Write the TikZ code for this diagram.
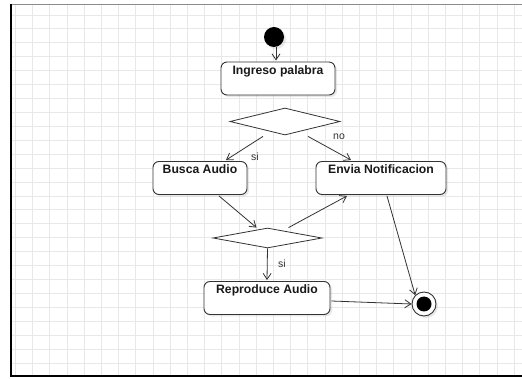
\documentclass[tikz,border=0pt]{standalone}
\usepackage{fontspec}
\setmainfont{Liberation Sans}
\usetikzlibrary{arrows.meta,positioning,calc,shapes.geometric,shadows}

\definecolor{gridgray}{HTML}{E8E8E8}
\definecolor{linegray}{HTML}{333333}

\tikzset{
  sombra/.style={drop shadow={opacity=0.18,shadow xshift=2pt,shadow yshift=-2pt}},
  accion/.style={draw=linegray,line width=0.9pt,rounded corners=6pt,fill=white,sombra,
    font=\bfseries\fontsize{12.2}{14}\selectfont,text=black!90,
    inner xsep=2pt,inner ysep=4pt,text height=8.5pt,text depth=16.5pt},
  decision/.style={diamond,draw=linegray,line width=0.8pt,fill=white,inner sep=0pt},
  flujo/.style={draw=linegray,line width=0.8pt,-{Straight Barb[length=6pt,width=8pt]}},
  etiqueta/.style={font=\fontsize{10.5}{12}\selectfont,text=black!80,inner sep=0pt}
}

\begin{document}
\begin{tikzpicture}[x=1pt,y=-1pt]
  \useasboundingbox (0,0) rectangle (522,379);
  \fill[white] (0,0) rectangle (522,379);
  % cuadricula del fondo
  \foreach \i in {0,...,29} \draw[gridgray,line width=0.9pt] ({15.5+17.2*\i},5) -- ({15.5+17.2*\i},375);
  \foreach \j in {0,...,26} \draw[gridgray,line width=0.9pt] (12,{15+13.92*\j}) -- (522,{15+13.92*\j});
  % marco
  \draw[black!45,line width=1.5pt] (11,4.5) -- (530,4.5);
  \draw[black,line width=2.8pt] (11,4) -- (11,376) -- (530,376);

  % nodos
  \node[circle,fill=black,minimum size=20pt,inner sep=0pt,sombra] (inicio) at (274,37) {};
  \node[accion,minimum width=114pt] (ingreso) at (278,78.5) {Ingreso palabra};
  \node[decision,minimum width=110pt,minimum height=27pt] (dec1) at (285,121.5) {};
  \node[accion,minimum width=94pt] (busca) at (200,178) {Busca Audio};
  \node[accion,minimum width=130pt] (envia) at (381,178) {Envia Notificacion};
  \node[decision,minimum width=109pt,minimum height=20pt] (dec2) at (267.5,238) {};
  \node[accion,minimum width=126pt] (reproduce) at (267,298) {Reproduce Audio};
  \node[circle,draw=linegray,line width=0.9pt,fill=white,minimum size=24pt,inner sep=0pt,sombra] (fin) at (424,304) {};
  \node[circle,fill=black,minimum size=15pt,inner sep=0pt] (finpunto) at (fin) {};

  % transiciones
  \draw[flujo] ($(inicio.south)+(2,0)$) -- ($(ingreso.north)+(-2,-1)$);
  \draw[flujo] ($(dec1.south)+(-22,1)$) -- ($(busca.north)+(26,-1)$);
  \draw[flujo] ($(dec1.south)+(23,1)$) -- ($(envia.north)+(-30,-1)$);
  \draw[flujo] ($(busca.south)+(19,1)$) -- ($(dec2.north)+(-11,0)$);
  \draw[flujo] ($(dec2.north)+(21,0)$) -- ($(envia.south)+(-34,1)$);
  \draw[flujo] (dec2.south) -- ($(reproduce.north)+(0,-1)$);
  \draw[flujo] ($(reproduce.east)+(1,3)$) -- (fin.west);
  \draw[flujo] ($(envia.south)+(6,1)$) -- (fin.north west);

  % etiquetas de las guardas
  \node[etiqueta] (lsi1) at (255,157) {si};
  \node[etiqueta] (lno) at (339,137) {no};
  \node[etiqueta] (lsi2) at (282,264) {si};
\end{tikzpicture}
\end{document}
